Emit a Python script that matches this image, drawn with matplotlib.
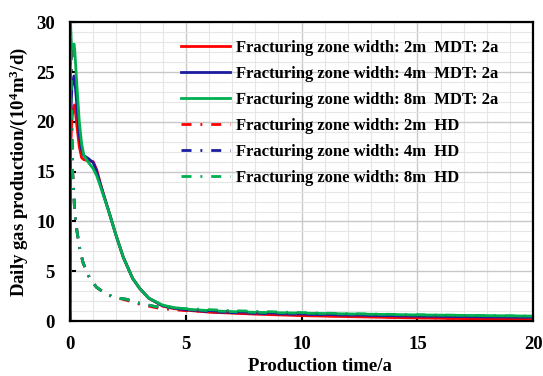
import numpy as np
import matplotlib.pyplot as plt
from matplotlib.ticker import MultipleLocator

# data
t_mdt = [0, 0.02, 0.08, 0.17, 0.2, 0.3, 0.4, 0.5, 0.6, 0.8, 1.0, 1.15, 1.3, 1.5, 1.7,
         2.0, 2.3, 2.7, 3.0, 3.4, 4.0, 4.5, 5, 6, 7, 8, 10, 12, 15, 18, 20]
mdt_2m = [0, 17.0, 20.5, 21.6, 21.7, 19.5, 17.5, 16.4, 16.2, 16.1, 16.0, 15.2, 13.9, 12.3, 10.8,
          8.5, 6.4, 4.3, 3.3, 2.3, 1.5, 1.25, 1.1, 0.9, 0.8, 0.7, 0.55, 0.45, 0.32, 0.22, 0.15]
mdt_4m = [0, 20.0, 23.5, 24.6, 24.4, 21.5, 18.7, 17.2, 16.6, 16.3, 15.9, 15.0, 13.8, 12.3, 10.8,
          8.5, 6.4, 4.3, 3.3, 2.3, 1.55, 1.3, 1.15, 0.95, 0.85, 0.78, 0.68, 0.6, 0.5, 0.42, 0.38]
mdt_8m = [0, 30.0, 26.5, 27.8, 27.3, 23.5, 20.0, 17.8, 16.6, 15.9, 15.3, 14.6, 13.6, 12.2, 10.8,
          8.5, 6.4, 4.3, 3.3, 2.3, 1.6, 1.35, 1.2, 1.05, 0.95, 0.88, 0.8, 0.72, 0.62, 0.55, 0.5]

t_hd = [0, 0.01, 0.05, 0.1, 0.2, 0.3, 0.43, 0.57, 0.83, 1.14, 1.45, 1.78, 2.1, 2.43, 3.0,
        3.7, 4.2, 5, 7, 10, 12, 15, 18, 20]
hd_2m = [0, 30.0, 25.0, 15.5, 11.0, 9.0, 7.1, 5.8, 4.4, 3.4, 2.9, 2.5, 2.3, 2.1, 1.7,
         1.35, 1.2, 1.05, 0.85, 0.6, 0.5, 0.35, 0.25, 0.2]
hd_4m = [0, 30.0, 25.0, 15.5, 11.0, 9.0, 7.1, 5.8, 4.4, 3.4, 2.9, 2.5, 2.3, 2.2, 1.8,
         1.45, 1.35, 1.15, 0.95, 0.72, 0.62, 0.5, 0.42, 0.38]
hd_8m = [0, 30.0, 25.0, 15.5, 11.0, 9.0, 7.1, 5.8, 4.4, 3.4, 2.9, 2.5, 2.3, 2.2, 1.8,
         1.45, 1.38, 1.25, 1.05, 0.85, 0.75, 0.63, 0.55, 0.5]

labels_mdt = ['Fracturing zone width: 2m  MDT: 2a',
              'Fracturing zone width: 4m  MDT: 2a',
              'Fracturing zone width: 8m  MDT: 2a']
labels_hd = ['Fracturing zone width: 2m  HD',
             'Fracturing zone width: 4m  HD',
             'Fracturing zone width: 8m  HD']
colors = ['#ff0000', '#1c1ca0', '#00b050']

plt.rcParams['font.family'] = 'Liberation Serif'
plt.rcParams['font.weight'] = 'bold'
plt.rcParams['mathtext.fontset'] = 'custom'
plt.rcParams['mathtext.rm'] = 'Liberation Serif:bold'
plt.rcParams['mathtext.it'] = 'Liberation Serif:bold'
plt.rcParams['mathtext.bf'] = 'Liberation Serif:bold'

fig = plt.figure(figsize=(5.43, 3.76), dpi=100)
ax = fig.add_axes([0.129, 0.146, 0.853, 0.795])

dashdot = (0, (3.6, 3.2, 0.7, 3.2))
for y, lab, c in zip([mdt_2m, mdt_4m, mdt_8m], labels_mdt, colors):
    ax.plot(t_mdt, y, color=c, lw=2.0, label=lab)
for y, lab, c in zip([hd_2m, hd_4m, hd_8m], labels_hd, colors):
    ax.plot(t_hd, y, color=c, lw=2.0, ls=dashdot, label=lab)

ax.set_xlim(0, 20)
ax.set_ylim(0, 30)
ax.xaxis.set_major_locator(MultipleLocator(5))
ax.yaxis.set_major_locator(MultipleLocator(5))
ax.xaxis.set_minor_locator(MultipleLocator(1))
ax.yaxis.set_minor_locator(MultipleLocator(1))
ax.grid(which='major', color='#c8c8c8', lw=1.0)
ax.grid(which='minor', color='#e6e6e6', lw=0.8)
ax.set_axisbelow(True)
ax.tick_params(which='major', direction='in', length=4, width=1.5, labelsize=13.5, pad=11)
ax.tick_params(which='minor', length=0)
for s in ax.spines.values():
    s.set_linewidth(1.6)
    s.set_color('black')

ax.set_xlabel('Production time/a', fontsize=13.5, fontweight='bold')
ax.xaxis.set_label_coords(0.54, -0.125)
ax.set_ylabel('Daily gas production/(10$\\mathrm{^4}$m$\\mathrm{^3}$/d)', fontsize=13.5,
              fontweight='bold', labelpad=4)

ax.legend(loc='upper left', frameon=False, handlelength=2.9, handletextpad=0.4,
          labelspacing=0.6, borderpad=0, borderaxespad=0,
          bbox_to_anchor=(0.24, 0.94), prop={'weight': 'bold', 'size': 12})

fig.savefig('out.png', dpi=100)
